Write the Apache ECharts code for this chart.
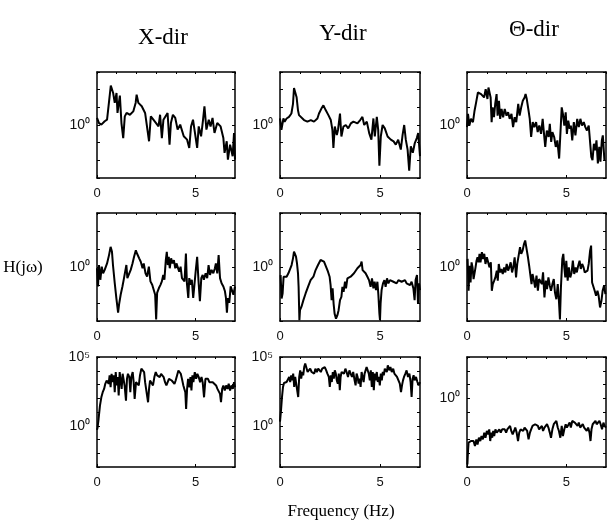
<!DOCTYPE html>
<html>
<head>
<meta charset="utf-8">
<script src="https://cdn.jsdelivr.net/npm/echarts@6/dist/echarts.min.js"></script>
<style>
  html, body { margin: 0; padding: 0; background: #fff; }
  #chart { width: 607px; height: 524px; }
</style>
</head>
<body>
<div id="chart"></div>
<script>
// |H(jw)|, stored as [frequency Hz, log10 magnitude]
var colTitles = ['X-dir', 'Y-dir', '\u0398-dir'];

var xdirRow1 = [[0,0.40],[0.10,0.11],[0.22,0.02],[0.39,0.21],[0.51,0.30],[0.70,2.23],[0.82,1.81],[0.90,1.25],[0.99,1.81],[1.04,0.68],[1.16,1.66],[1.24,0.11],[1.33,-0.74],[1.41,0.49],[1.50,0.68],[1.67,0.58],[1.84,0.77],[1.96,1.25],[2.01,1.72],[2.10,1.25],[2.27,1.06],[2.44,0.68],[2.52,0.77],[2.64,-0.92],[2.73,0.49],[2.86,0.30],[2.95,0.40],[3.12,-0.08],[3.20,0.58],[3.29,-0.74],[3.37,0.30],[3.46,0.21],[3.58,0.68],[3.68,-1.11],[3.75,0.11],[3.85,0.58],[3.97,0.40],[4.09,-0.26],[4.22,0.02],[4.40,-0.64],[4.57,-0.83],[4.68,-1.30],[4.77,-0.08],[4.87,0.30],[5.08,-1.30],[5.16,-0.08],[5.28,-0.64],[5.38,0.30],[5.45,1.06],[5.55,-0.26],[5.67,0.30],[5.76,-0.08],[5.86,0.40],[5.96,-0.45],[6.10,0.11],[6.27,-0.08],[6.41,-0.74],[6.47,-1.58],[6.58,-0.92],[6.64,-1.96],[6.75,-1.11],[6.81,-1.40],[6.88,-1.77],[6.95,-0.45],[7.0,-1.96]];
var ydirRow1 = [[0,0.37],[0.07,-0.28],[0.17,0.37],[0.23,0.19],[0.33,0.37],[0.45,0.46],[0.57,0.65],[0.65,1.20],[0.70,2.09],[0.78,2.13],[0.83,1.57],[0.90,0.83],[0.95,0.56],[1.04,0.46],[1.20,0.28],[1.37,0.19],[1.54,0.28],[1.70,0.19],[1.87,0.37],[1.95,0.65],[2.07,0.93],[2.17,1.11],[2.29,0.83],[2.42,0.56],[2.54,0.28],[2.62,-0.28],[2.67,-1.30],[2.74,-0.09],[2.84,-0.56],[2.90,-0.28],[3.00,0.65],[3.07,-0.65],[3.17,-0.09],[3.29,0],[3.41,-0.19],[3.54,0.09],[3.67,0.19],[3.87,0.09],[4.01,0.28],[4.12,0.46],[4.21,0],[4.34,0.19],[4.46,-0.46],[4.57,-0.83],[4.67,0.37],[4.74,-0.65],[4.84,0.46],[4.91,-0.28],[4.97,-2.31],[5.04,-0.65],[5.13,0],[5.24,-0.19],[5.38,-0.65],[5.54,-0.83],[5.68,-0.93],[5.79,-1.11],[5.91,-0.83],[6.04,-1.39],[6.13,-0.56],[6.21,0],[6.29,-0.83],[6.38,-1.39],[6.46,-2.59],[6.54,-1.20],[6.64,-1.57],[6.74,-1.02],[6.84,-0.74],[6.91,-0.46],[7.0,-1.76]];
var tdirRow1 = [[0,-0.12],[0.05,0.63],[0.12,-0.03],[0.20,0.35],[0.30,0.16],[0.38,0.81],[0.46,1.28],[0.55,1.84],[0.63,1.93],[0.71,1.75],[0.79,1.84],[0.86,1.56],[0.94,2.03],[1.03,1.47],[1.08,2.12],[1.13,2.21],[1.19,1.56],[1.24,0.16],[1.29,1.00],[1.36,0.44],[1.42,1.19],[1.49,1.75],[1.54,0.53],[1.61,1.37],[1.67,0.35],[1.74,0.91],[1.82,0.44],[1.90,0.91],[1.99,0.53],[2.07,0.72],[2.15,0.35],[2.24,0.63],[2.32,-0.12],[2.40,0.44],[2.48,0.16],[2.58,1.19],[2.65,0.53],[2.73,1.00],[2.81,1.37],[2.90,1.56],[2.95,1.75],[3.01,1.47],[3.10,0.81],[3.16,0.35],[3.23,-0.68],[3.31,0.16],[3.39,-0.12],[3.48,0.16],[3.56,-0.40],[3.64,-0.03],[3.73,-0.50],[3.81,0.35],[3.87,-0.40],[3.94,-1.24],[4.02,-0.31],[4.11,-0.68],[4.17,0.07],[4.24,-0.96],[4.30,-0.40],[4.39,-0.68],[4.47,-1.24],[4.55,-0.87],[4.64,-1.90],[4.72,-0.12],[4.77,1.00],[4.83,0.63],[4.90,-0.03],[4.97,0.72],[5.03,-0.50],[5.10,0.25],[5.17,-0.21],[5.23,-0.03],[5.30,-0.87],[5.38,0.16],[5.46,-0.59],[5.55,0.35],[5.63,-0.12],[5.71,0.35],[5.79,-0.03],[5.88,0.16],[5.96,-0.12],[6.04,-0.31],[6.13,-0.03],[6.21,-0.12],[6.26,-1.80],[6.32,-1.99],[6.39,-1.06],[6.46,-1.43],[6.52,-0.87],[6.59,-2.18],[6.66,-1.24],[6.72,-2.08],[6.79,-0.87],[6.84,-0.59],[6.92,-1.99]];

var xdirRow2 = [[0,-0.07],[0.05,-1.08],[0.10,0.11],[0.17,-0.71],[0.24,0.02],[0.31,-0.35],[0.39,-0.16],[0.51,0.20],[0.61,0.66],[0.69,1.12],[0.76,0.84],[0.81,0.11],[0.90,-0.90],[0.98,-1.72],[1.07,-2.54],[1.12,-2.08],[1.20,-1.54],[1.29,-1.08],[1.37,-0.62],[1.42,-0.71],[1.49,0.11],[1.54,-0.62],[1.63,-0.53],[1.71,-0.16],[1.80,0.20],[1.88,0.57],[1.97,0.93],[2.03,0.75],[2.14,0.48],[2.22,0.29],[2.31,-0.07],[2.37,0.20],[2.46,-0.35],[2.54,-0.53],[2.63,0.02],[2.71,-0.80],[2.80,-0.99],[2.88,-1.08],[2.95,-1.54],[3.00,-2.91],[3.05,-1.44],[3.14,-1.17],[3.22,-0.99],[3.29,-0.80],[3.36,-0.44],[3.42,-0.71],[3.49,0.38],[3.54,0.84],[3.59,0.11],[3.64,0.57],[3.69,-0.07],[3.76,0.48],[3.83,0.20],[3.90,0.38],[3.97,-0.07],[4.03,0.20],[4.10,0.11],[4.17,-0.26],[4.24,0.02],[4.31,-0.62],[4.37,-0.53],[4.44,-0.80],[4.51,0.75],[4.56,-0.90],[4.63,-1.72],[4.68,-0.62],[4.75,-0.99],[4.81,-0.71],[4.88,-1.72],[4.95,-0.90],[5.02,-0.07],[5.08,0.57],[5.15,-0.80],[5.22,-1.90],[5.29,-0.62],[5.36,-0.44],[5.42,-0.71],[5.51,-0.35],[5.59,-0.62],[5.66,0.11],[5.73,-0.44],[5.81,-0.16],[5.90,-0.35],[5.98,-0.07],[6.03,0.20],[6.10,-0.35],[6.17,0.66],[6.24,-0.62],[6.32,-0.90],[6.41,-1.08],[6.49,-1.35],[6.54,-1.72],[6.59,-2.54],[6.64,-1.72],[6.71,-1.99],[6.78,-1.08],[6.85,-1.17],[6.92,-1.54],[7.0,-1.08]];
var ydirRow2 = [[0.03,-0.45],[0.08,-1.75],[0.13,-1.47],[0.18,-0.54],[0.25,-0.45],[0.33,-0.54],[0.42,-0.35],[0.50,-0.26],[0.58,0.11],[0.65,0.48],[0.70,0.86],[0.75,0.95],[0.80,0.58],[0.85,0.20],[0.90,-0.35],[0.93,-1.10],[0.97,-2.96],[1.00,-2.40],[1.07,-2.22],[1.17,-1.84],[1.28,-1.47],[1.40,-1.10],[1.53,-0.73],[1.67,-0.54],[1.78,-0.17],[1.90,0.11],[2.03,0.39],[2.12,0.48],[2.20,0.30],[2.30,0.02],[2.40,-0.26],[2.48,-0.54],[2.53,-1.01],[2.58,-1.84],[2.63,-1.19],[2.68,-2.03],[2.73,-2.59],[2.80,-2.87],[2.87,-2.68],[2.93,-2.40],[3.00,-1.84],[3.07,-1.66],[3.12,-1.10],[3.18,-1.38],[3.25,-0.82],[3.30,-1.19],[3.37,-0.63],[3.45,-0.73],[3.53,-0.54],[3.62,-0.54],[3.70,-0.35],[3.78,-0.26],[3.87,-0.07],[3.95,-0.17],[4.03,0.11],[4.08,0.30],[4.13,-0.17],[4.20,-0.07],[4.28,-0.35],[4.37,-0.54],[4.45,-0.73],[4.53,-1.10],[4.60,-0.63],[4.67,-1.19],[4.73,-0.82],[4.80,-1.28],[4.87,-0.82],[4.92,-1.56],[4.97,-2.59],[5.00,-2.96],[5.03,-2.03],[5.08,-1.28],[5.15,-0.91],[5.22,-0.73],[5.28,-1.10],[5.35,-0.63],[5.42,-0.91],[5.50,-0.73],[5.58,-0.82],[5.67,-0.82],[5.75,-0.73],[5.83,-0.91],[5.92,-0.73],[6.00,-0.63],[6.08,-0.82],[6.17,-0.91],[6.25,-0.73],[6.33,-0.91],[6.42,-0.91],[6.50,-1.01],[6.58,-0.82],[6.67,-1.19],[6.73,-1.84],[6.78,-0.73],[6.85,-0.45],[6.90,-2.03],[6.95,-0.91],[7.0,-1.28]];
var tdirRow2 = [[0.03,0.45],[0.08,-1.32],[0.13,0.07],[0.18,-0.86],[0.23,0.26],[0.28,-0.02],[0.33,-0.67],[0.38,-0.76],[0.43,-0.02],[0.48,0.35],[0.53,0.54],[0.58,0.26],[0.63,0.73],[0.68,0.26],[0.75,0.82],[0.80,0.45],[0.87,0.73],[0.93,0.17],[1.00,0.54],[1.07,0.45],[1.13,-0.02],[1.20,0.26],[1.25,-1.32],[1.30,-0.95],[1.37,-0.76],[1.43,-0.58],[1.50,-0.20],[1.55,-0.76],[1.60,0.17],[1.67,-0.30],[1.73,-0.11],[1.80,-0.39],[1.87,-0.02],[1.93,-0.30],[2.00,0.17],[2.07,-0.20],[2.13,-0.02],[2.20,0.26],[2.27,-0.30],[2.33,-0.02],[2.40,0.54],[2.47,-0.58],[2.53,0.17],[2.60,0.63],[2.67,1.10],[2.73,0.73],[2.80,0.91],[2.87,1.28],[2.93,1.47],[3.00,1.01],[3.07,0.54],[3.13,0.07],[3.20,-0.02],[3.25,-0.95],[3.30,-0.39],[3.37,-0.76],[3.43,-1.14],[3.50,-0.48],[3.57,-1.32],[3.63,-0.67],[3.70,-0.58],[3.77,-0.95],[3.83,-0.30],[3.90,-1.69],[3.97,-0.76],[4.03,-1.23],[4.10,-0.58],[4.17,-1.04],[4.23,-1.32],[4.30,-0.95],[4.37,-0.67],[4.43,-1.42],[4.50,-1.79],[4.57,-0.95],[4.63,-1.88],[4.68,-2.91],[4.73,-1.14],[4.80,0.45],[4.85,0.73],[4.90,-0.02],[4.95,-0.58],[5.00,0.35],[5.07,-0.76],[5.13,-0.02],[5.20,-0.58],[5.27,-0.30],[5.33,0.35],[5.40,-0.39],[5.47,-0.02],[5.53,-0.30],[5.60,0.07],[5.67,0.35],[5.73,-0.11],[5.80,0.17],[5.87,-0.02],[5.93,-0.30],[6.00,-0.39],[6.07,-0.20],[6.13,0.17],[6.20,0.91],[6.25,1.19],[6.30,-0.86],[6.37,-0.95],[6.43,-1.32],[6.50,-1.60],[6.57,-1.32],[6.63,-1.60],[6.70,-2.25],[6.77,-1.88],[6.83,-1.32],[6.90,-1.04],[6.97,-1.51]];

var xdirRow3 = [[0,-0.3],[0.03,-0.12],[0.08,0.49],[0.15,1.46],[0.22,2.07],[0.29,2.44],[0.36,2.68],[0.42,3.05],[0.49,3.29],[0.54,3.41],[0.59,3.05],[0.64,3.66],[0.69,2.80],[0.74,3.78],[0.80,3.17],[0.85,3.66],[0.90,2.44],[0.95,3.90],[1.00,2.93],[1.05,3.54],[1.10,2.20],[1.15,3.90],[1.20,3.29],[1.25,2.68],[1.30,3.78],[1.35,3.90],[1.40,2.93],[1.47,1.83],[1.52,3.41],[1.57,3.78],[1.64,3.54],[1.69,2.44],[1.74,3.54],[1.81,3.90],[1.86,3.17],[1.91,1.95],[1.98,3.17],[2.05,3.29],[2.12,2.93],[2.18,3.66],[2.25,4.15],[2.32,4.27],[2.39,3.90],[2.44,3.17],[2.49,2.68],[2.54,2.20],[2.59,1.71],[2.64,2.68],[2.69,3.29],[2.74,3.41],[2.79,3.17],[2.84,2.93],[2.91,3.54],[2.98,3.90],[3.05,3.66],[3.11,3.78],[3.18,3.54],[3.25,3.78],[3.32,3.90],[3.38,3.54],[3.45,3.17],[3.52,2.93],[3.59,3.05],[3.65,3.41],[3.72,3.54],[3.79,3.29],[3.86,3.17],[3.93,3.05],[3.99,3.29],[4.06,3.66],[4.13,4.02],[4.18,4.15],[4.25,3.78],[4.31,3.41],[4.38,2.93],[4.43,2.68],[4.48,2.44],[4.52,1.22],[4.57,2.68],[4.62,3.41],[4.69,2.80],[4.74,3.54],[4.79,2.56],[4.84,3.66],[4.89,3.17],[4.96,3.90],[5.03,3.41],[5.09,3.78],[5.16,3.54],[5.23,3.17],[5.30,3.54],[5.36,3.17],[5.43,2.07],[5.50,3.41],[5.57,3.29],[5.63,3.41],[5.70,3.17],[5.79,3.29],[5.87,3.17],[5.96,3.05],[6.04,2.93],[6.11,2.68],[6.18,2.80],[6.24,2.32],[6.29,1.71],[6.35,2.68],[6.41,2.93],[6.48,2.56],[6.55,2.93],[6.62,2.68],[6.68,3.05],[6.75,2.56],[6.82,2.93],[6.89,2.68],[6.95,3.17],[7.0,2.80]];
var ydirRow3 = [[0,0.3],[0.05,1.12],[0.10,2.09],[0.15,2.82],[0.20,3.11],[0.27,3.06],[0.33,3.18],[0.40,3.11],[0.46,3.55],[0.51,3.18],[0.56,3.67],[0.61,3.30],[0.66,3.79],[0.71,2.82],[0.76,3.55],[0.81,3.06],[0.86,2.58],[0.91,2.09],[0.96,3.55],[1.01,4.03],[1.06,3.42],[1.11,3.91],[1.16,3.67],[1.21,4.27],[1.26,4.52],[1.31,4.27],[1.38,3.91],[1.44,4.03],[1.51,4.15],[1.58,3.91],[1.64,4.03],[1.71,3.79],[1.77,4.15],[1.84,3.91],[1.91,4.15],[1.97,4.27],[2.04,3.91],[2.11,4.15],[2.17,4.27],[2.24,4.27],[2.31,4.03],[2.37,3.79],[2.44,3.55],[2.49,2.82],[2.54,3.67],[2.59,3.18],[2.64,3.91],[2.69,3.42],[2.74,4.03],[2.79,3.79],[2.84,3.30],[2.89,3.06],[2.94,3.79],[2.99,2.58],[3.03,3.55],[3.08,3.91],[3.13,4.03],[3.20,3.79],[3.27,4.15],[3.33,3.91],[3.40,3.55],[3.47,4.03],[3.53,3.79],[3.60,3.55],[3.66,3.91],[3.73,3.30],[3.78,2.94],[3.83,3.79],[3.88,3.55],[3.93,3.06],[3.98,3.42],[4.03,2.82],[4.08,3.91],[4.13,3.55],[4.18,3.18],[4.23,3.79],[4.28,4.03],[4.33,4.27],[4.39,4.15],[4.44,3.79],[4.49,3.30],[4.54,4.03],[4.59,2.82],[4.64,3.91],[4.69,2.58],[4.74,3.79],[4.79,3.30],[4.84,3.91],[4.89,3.18],[4.94,3.55],[4.99,2.94],[5.04,3.79],[5.09,3.30],[5.14,3.91],[5.19,3.67],[5.24,4.15],[5.29,4.27],[5.34,3.91],[5.39,4.39],[5.46,4.03],[5.52,4.27],[5.59,3.91],[5.66,4.15],[5.72,3.79],[5.79,3.91],[5.85,3.55],[5.92,3.42],[5.99,3.06],[6.05,2.45],[6.10,2.94],[6.15,3.30],[6.20,3.55],[6.27,3.79],[6.33,4.03],[6.40,3.55],[6.47,3.79],[6.53,3.18],[6.58,2.09],[6.63,3.42],[6.68,3.67],[6.73,3.30],[6.80,3.55],[6.87,3.18],[6.93,2.94],[7.0,3.18]];
var tdirRow3 = [[0.02,-4.82],[0.05,-3.85],[0.08,-3.23],[0.13,-3.36],[0.20,-3.11],[0.27,-3.23],[0.33,-3.11],[0.40,-3.48],[0.47,-2.99],[0.53,-3.36],[0.60,-2.87],[0.67,-3.11],[0.73,-2.75],[0.80,-2.99],[0.87,-2.50],[0.93,-2.87],[1.00,-2.38],[1.07,-2.62],[1.12,-2.26],[1.17,-3.11],[1.22,-2.50],[1.27,-2.87],[1.32,-2.38],[1.37,-2.75],[1.43,-2.26],[1.50,-2.50],[1.57,-2.38],[1.63,-2.26],[1.70,-2.50],[1.77,-2.26],[1.83,-2.38],[1.90,-2.26],[1.97,-2.50],[2.03,-2.26],[2.10,-2.38],[2.17,-2.01],[2.23,-2.38],[2.30,-2.62],[2.37,-2.38],[2.43,-2.13],[2.50,-2.50],[2.57,-3.11],[2.63,-2.50],[2.70,-2.26],[2.77,-2.13],[2.83,-2.38],[2.90,-2.13],[2.97,-2.01],[3.03,-2.38],[3.10,-2.99],[3.17,-2.50],[3.23,-2.26],[3.30,-2.01],[3.37,-2.13],[3.43,-1.89],[3.50,-1.77],[3.57,-2.01],[3.63,-2.26],[3.70,-2.13],[3.77,-2.01],[3.83,-2.38],[3.90,-2.13],[3.97,-2.26],[4.03,-1.89],[4.10,-2.13],[4.17,-2.50],[4.23,-2.87],[4.30,-2.26],[4.37,-1.89],[4.43,-1.77],[4.50,-1.65],[4.57,-2.13],[4.63,-2.38],[4.70,-2.87],[4.77,-2.01],[4.83,-2.75],[4.90,-2.26],[4.97,-1.89],[5.03,-2.13],[5.10,-2.01],[5.17,-1.77],[5.23,-2.13],[5.30,-1.65],[5.37,-1.52],[5.43,-1.77],[5.50,-1.65],[5.57,-2.01],[5.63,-1.77],[5.70,-2.13],[5.77,-2.01],[5.83,-1.89],[5.90,-2.13],[5.97,-2.01],[6.03,-2.38],[6.10,-2.13],[6.17,-2.50],[6.22,-3.11],[6.27,-2.26],[6.33,-1.89],[6.40,-1.77],[6.47,-1.65],[6.53,-1.89],[6.60,-2.01],[6.67,-1.65],[6.73,-1.89],[6.80,-2.26],[6.87,-1.77],[6.93,-2.01],[7.0,-2.13]];

// y range per panel, in decades
var panels = [
  { data: xdirRow1, yMin: -3, yMax: 3 },
  { data: ydirRow1, yMin: -3, yMax: 3 },
  { data: tdirRow1, yMin: -3, yMax: 3 },
  { data: xdirRow2, yMin: -3, yMax: 3 },
  { data: ydirRow2, yMin: -3, yMax: 3 },
  { data: tdirRow2, yMin: -3, yMax: 3 },
  { data: xdirRow3, yMin: -3, yMax: 5 },
  { data: ydirRow3, yMin: -3, yMax: 5 },
  { data: tdirRow3, yMin: -5, yMax: 3 }
];

var colLeft = [97, 280, 467];
var colWidth = [138, 140, 139];
var rowTop = [72, 213, 357];
var rowHeight = [106, 108, 110];

var sup = { 0: '\u2070', 5: '\u2075' };
var tickFont = 'Liberation Sans';
var serif = '"Liberation Serif", "DejaVu Serif", serif';

var grids = [], xAxes = [], yAxes = [], series = [];
var lineStyle = { color: '#000', width: 1.5 };

panels.forEach(function (p, i) {
  var r = Math.floor(i / 3), c = i % 3;
  grids.push({ left: colLeft[c], top: rowTop[r], width: colWidth[c], height: rowHeight[r] });

  // bottom axis with labels, top axis as a mirror for the box
  xAxes.push({
    type: 'value', gridIndex: i, min: 0, max: 7, interval: 5, position: 'bottom',
    axisLine: { onZero: false, lineStyle: lineStyle },
    axisTick: { inside: true, length: 3, lineStyle: { color: '#000' } },
    axisLabel: { margin: 9, color: '#111', fontFamily: tickFont, fontSize: 13, showMaxLabel: false },
    splitLine: { show: false }
  });
  xAxes.push({
    type: 'value', gridIndex: i, min: 0, max: 7, interval: 1, position: 'top',
    axisLine: { onZero: false, lineStyle: lineStyle },
    axisTick: { inside: true, length: 2, lineStyle: { color: '#000' } },
    axisLabel: { show: false }, splitLine: { show: false }
  });

  yAxes.push({
    type: 'value', gridIndex: i, min: p.yMin, max: p.yMax, interval: 1, position: 'left',
    axisLine: { onZero: false, lineStyle: lineStyle },
    axisTick: { inside: true, length: 3, lineStyle: { color: '#000' } },
    axisLabel: {
      margin: 7, color: '#111', fontFamily: tickFont, fontSize: 14,
      formatter: function (v) {
        if (v === 0) return '10' + sup[0];
        if (v === 5) return '10' + sup[5];
        return '';
      }
    },
    splitLine: { show: false }
  });
  yAxes.push({
    type: 'value', gridIndex: i, min: p.yMin, max: p.yMax, interval: 1, position: 'right',
    axisLine: { onZero: false, lineStyle: lineStyle },
    axisTick: { inside: true, length: 3, lineStyle: { color: '#000' } },
    axisLabel: { show: false }, splitLine: { show: false }
  });

  series.push({
    type: 'line', xAxisIndex: 2 * i, yAxisIndex: 2 * i,
    data: p.data, showSymbol: false, symbol: 'none',
    lineStyle: { color: '#000', width: 2 },
    clip: true, silent: true
  });
});

var graphics = [
  { x: 163, y: 38, t: colTitles[0], size: 23 },
  { x: 343, y: 34, t: colTitles[1], size: 23 },
  { x: 534, y: 30, t: colTitles[2], size: 23 },
  { x: 23, y: 268, t: 'H(j\u03c9)', size: 17 },
  { x: 341, y: 512, t: 'Frequency (Hz)', size: 17 }
].map(function (g) {
  return {
    type: 'text', x: g.x, y: g.y, silent: true,
    style: { text: g.t, font: g.size + 'px ' + serif, fill: '#000', textAlign: 'center', textVerticalAlign: 'middle' }
  };
});

var chart = echarts.init(document.getElementById('chart'), null, { renderer: 'canvas' });
chart.setOption({
  backgroundColor: '#fff',
  animation: false,
  grid: grids,
  xAxis: xAxes,
  yAxis: yAxes,
  series: series,
  graphic: graphics
});
</script>
</body>
</html>
